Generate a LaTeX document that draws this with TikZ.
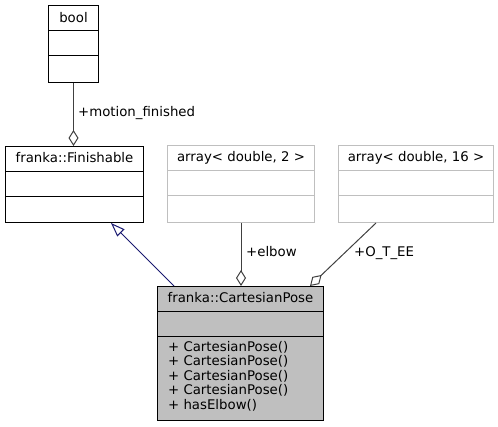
\documentclass[tikz,border=0pt]{standalone}
\usepackage{fontspec}
\setmainfont{DejaVu Sans}
\usetikzlibrary{arrows.meta,calc}
\definecolor{grey25}{HTML}{404040}
\definecolor{grey75}{HTML}{BFBFBF}
\definecolor{midnightblue}{HTML}{191970}
\tikzset{
  umlbox/.style={draw=black, line width=1pt, rectangle, inner sep=0pt, anchor=north west},
  ghostbox/.style={umlbox, draw=grey75},
  divider/.style={line width=1pt},
  lbl/.style={font=\fontsize{13.3}{16}\selectfont, inner sep=0pt, anchor=base},
  usage/.style={draw=grey25, line width=1pt, -{Diamond[open,length=16pt,width=10pt,line width=1pt]}},
  inherit/.style={draw=midnightblue, line width=1pt, -{Triangle[open,length=14pt,width=10pt,line width=1pt]}},
}
\begin{document}
\begin{tikzpicture}[x=1pt,y=-1pt]
\useasboundingbox (0,0) rectangle (498,427);
% boxes
\node[umlbox, minimum width=50pt, minimum height=77pt] (bool) at (48,5) {};
\node[umlbox, minimum width=138pt, minimum height=76pt] (fin) at (5,146) {};
\node[ghostbox, minimum width=147pt, minimum height=77pt] (arr2) at (167,145) {};
\node[ghostbox, minimum width=155pt, minimum height=77pt] (arr16) at (338,145) {};
\node[umlbox, fill=grey75, minimum width=166pt, minimum height=134pt] (cp) at (157,286) {};
% dividers
\draw[divider] ($(bool.north west)+(0,26)$) -- ($(bool.north east)+(0,26)$);
\draw[divider] ($(bool.north west)+(0,51)$) -- ($(bool.north east)+(0,51)$);
\draw[divider] ($(fin.north west)+(0,26)$) -- ($(fin.north east)+(0,26)$);
\draw[divider] ($(fin.north west)+(0,51)$) -- ($(fin.north east)+(0,51)$);
\draw[divider, grey75] ($(arr2.north west)+(0,26)$) -- ($(arr2.north east)+(0,26)$);
\draw[divider, grey75] ($(arr2.north west)+(0,51)$) -- ($(arr2.north east)+(0,51)$);
\draw[divider, grey75] ($(arr16.north west)+(0,26)$) -- ($(arr16.north east)+(0,26)$);
\draw[divider, grey75] ($(arr16.north west)+(0,51)$) -- ($(arr16.north east)+(0,51)$);
\draw[divider] ($(cp.north west)+(0,26)$) -- ($(cp.north east)+(0,26)$);
\draw[divider] ($(cp.north west)+(0,51)$) -- ($(cp.north east)+(0,51)$);
% titles
\node[lbl] (tbool) at ($(bool.north)+(0,17.5)$) {bool};
\node[lbl] (tfin) at ($(fin.north)+(0,16.5)$) {franka::Finishable};
\node[lbl] (tarr2) at ($(arr2.north)+(0,17)$) {array< double, 2 >};
\node[lbl] (tarr16) at ($(arr16.north)+(0,17)$) {array< double, 16 >};
\node[lbl] (tcp) at ($(cp.north)+(0,16.5)$) {franka::CartesianPose};
% members
\node[lbl, anchor=base west] (m1) at (168,351.5) {+ CartesianPose()};
\node[lbl, anchor=base west] (m2) at (168,366) {+ CartesianPose()};
\node[lbl, anchor=base west] (m3) at (168,380.5) {+ CartesianPose()};
\node[lbl, anchor=base west] (m4) at (168,395) {+ CartesianPose()};
\node[lbl, anchor=base west] (m5) at (168,409.5) {+ hasElbow()};
% connectors
\draw[usage] (bool.south) -- (bool.south |- fin.north);
\draw[usage] (arr2.south) -- (arr2.south |- cp.north);
\coordinate (oteeStart) at ($(arr16.south west)+(38,0)$);
\coordinate (oteeEnd) at ($(cp.north west)+(153,0)$);
\draw[usage] (oteeStart) -- (oteeEnd);
\coordinate (inhStart) at ($(cp.north west)+(17,0)$);
\coordinate (inhEnd) at ($(fin.south west)+(106,0)$);
\draw[inherit] (inhStart) -- (inhEnd);
% connector labels
\node[lbl, anchor=base west] (lmf) at (78,116.5) {+motion\_finished};
\node[lbl, anchor=base west] (lelbow) at (246,257) {+elbow};
\node[lbl, anchor=base west] (lotee) at (354,257) {+O\_T\_EE};
\end{tikzpicture}
\end{document}
